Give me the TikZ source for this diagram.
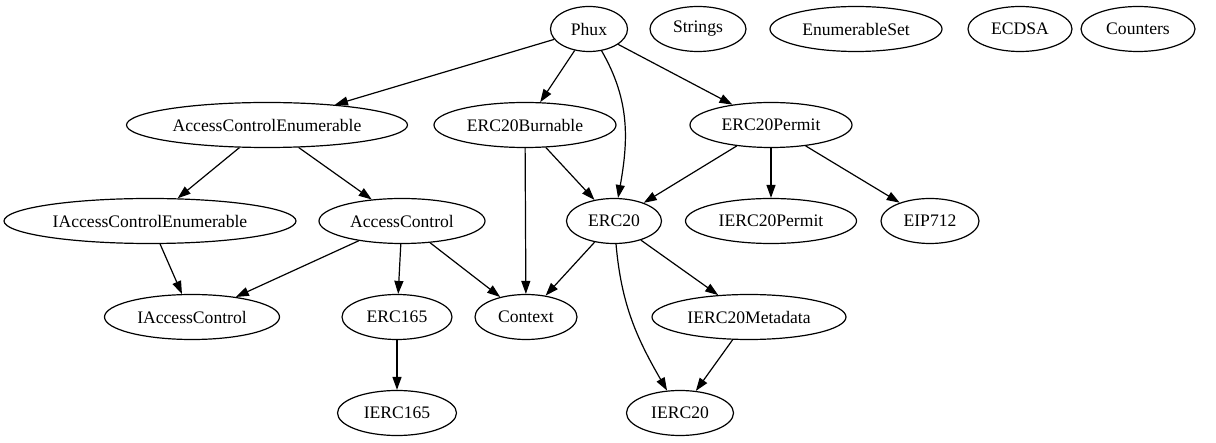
\documentclass[tikz,border=0pt]{standalone}
\usepackage{fontspec}
\setmainfont{Liberation Serif}
\usetikzlibrary{shapes.geometric,arrows.meta}

\begin{document}
\begin{tikzpicture}[x=1pt,y=-1pt,line width=1.2pt]
        \useasboundingbox (0,0) rectangle (1216,443);

        \begin{scope}[every node/.style={ellipse,draw,inner sep=0pt,minimum height=45pt,font=\fontsize{17.6pt}{20pt}\selectfont}]
          \node[minimum width=77pt]  (1)  at (589,29)  {Phux};
          \node[minimum width=96pt]  (2)  at (698,29)  {Strings};
          \node[minimum width=172pt] (3)  at (856,29)  {EnumerableSet};
          \node[minimum width=104pt] (4)  at (1020,29) {ECDSA};
          \node[minimum width=114pt] (5)  at (1138,29) {Counters};
          \node[minimum width=281pt] (6)  at (267,125) {AccessControlEnumerable};
          \node[minimum width=182pt] (7)  at (525,125) {ERC20Burnable};
          \node[minimum width=162pt] (8)  at (771,125) {ERC20Permit};
          \node[minimum width=292pt] (9)  at (150,221) {IAccessControlEnumerable};
          \node[minimum width=166pt] (10) at (402,221) {AccessControl};
          \node[minimum width=95pt]  (11) at (614,221) {ERC20};
          \node[minimum width=171pt] (12) at (771,221) {IERC20Permit};
          \node[minimum width=98pt]  (13) at (930,221) {EIP712};
          \node[minimum width=175pt] (14) at (192,317) {IAccessControl};
          \node[minimum width=110pt] (15) at (397,317) {ERC165};
          \node[minimum width=102pt] (16) at (526,317) {Context};
          \node[minimum width=194pt] (17) at (749,317) {IERC20Metadata};
          \node[minimum width=119pt] (18) at (397,413) {IERC165};
          \node[minimum width=107pt] (19) at (680,413) {IERC20};
        \end{scope}

        \begin{scope}[every edge/.style={draw,-{Triangle[length=13pt,width=9pt]}}]
          \path (1)  edge (6);
          \path (1)  edge (7);
          \path (1)  edge[out=-60,in=80] (11);
          \path (1)  edge (8);
          \path (6)  edge (9);
          \path (6)  edge (10);
          \path (7)  edge (16);
          \path (7)  edge (11);
          \path (8)  edge (11);
          \path (8)  edge (12);
          \path (8)  edge (13);
          \path (9)  edge (14);
          \path (10) edge (14);
          \path (10) edge (15);
          \path (10) edge (16);
          \path (11) edge (16);
          \path (11) edge (17);
          \path (11) edge[out=-85,in=120] (19);
          \path (15) edge (18);
          \path (17) edge (19);
        \end{scope}

      \end{tikzpicture}
\end{document}
